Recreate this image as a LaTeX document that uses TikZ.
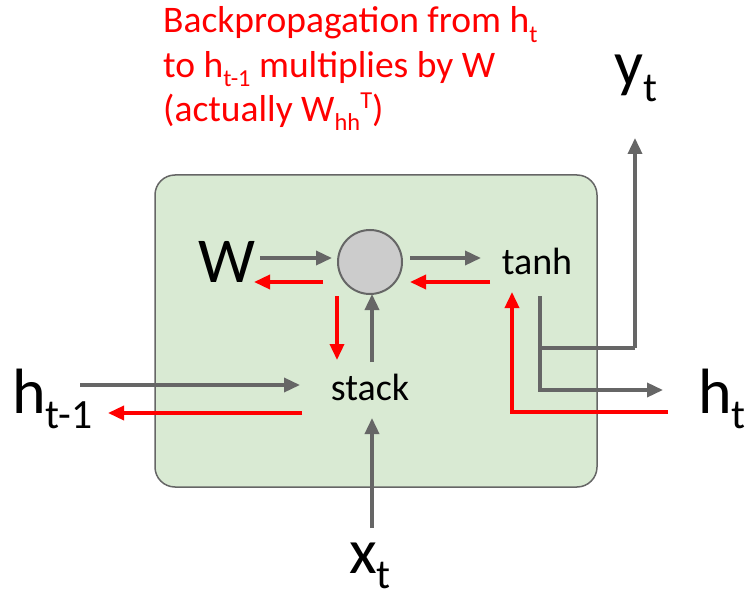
\documentclass[tikz,border=0pt]{standalone}
\usepackage{fontspec}
\setmainfont{Carlito}
\usetikzlibrary{arrows.meta}
\definecolor{boxgreen}{HTML}{D9EAD3}
\definecolor{arrgray}{HTML}{666666}
\definecolor{circgray}{HTML}{CCCCCC}
\newcommand\lo[1]{\raisebox{-0.24em}{\scalebox{0.65}{#1}}}
\newcommand\hi[1]{\raisebox{0.35em}{\scalebox{0.65}{#1}}}
\begin{document}
\begin{tikzpicture}[x=1pt,y=-1pt,
  fw/.style={draw=arrgray,line width=3.5pt,-{Triangle[length=16pt,width=14pt]}},
  bw/.style={draw=red,line width=3.5pt,-{Triangle[length=16pt,width=14pt]}},
  big/.style={font=\fontsize{64}{64}\selectfont, anchor=base west, inner sep=0pt},
  mid/.style={font=\fontsize{38}{40}\selectfont, anchor=base, inner sep=0pt},
]
\useasboundingbox (0,0) rectangle (750,599);
\node[draw=arrgray, line width=1.5pt, fill=boxgreen, rounded corners=20pt,
      minimum width=442pt, minimum height=312pt, inner sep=0pt] (cell) at (376,331) {};
\node[circle, draw=arrgray, line width=2pt, fill=circgray, minimum size=64pt, inner sep=0pt] (mul) at (370,262) {};
\node[mid] (tanh) at (537,274) {tanh};
\node[mid] (stack) at (370,400) {stack};
\node[big] (W) at (198,282) {W};
\node[big] (hprev) at (12,413) {h\lo{t-1}};
\node[big] (hnext) at (698,413) {h\lo{t}};
\node[big] (yt) at (614,86) {y\lo{t}};
\node[big] (xt) at (349,573) {x\lo{t}};
\node[anchor=base west, inner sep=0pt, text=red, align=left,
      font=\fontsize{37.5}{44.5}\selectfont] (note) at (163,122)
  {Backpropagation from h\lo{t}\\to h\lo{t-1} multiplies by W\\(actually W\lo{hh}\hi{T})};
% coordinates for connector ends
\coordinate (wa) at (260,258); \coordinate (wb) at (332,258);
\coordinate (wr1) at (323,282); \coordinate (wr2) at (254,282);
\coordinate (ta) at (410,258); \coordinate (tb) at (481,258);
\coordinate (tr1) at (490,282); \coordinate (tr2) at (410,282);
\coordinate (md1) at (337,296); \coordinate (md2) at (337,360);
\coordinate (su1) at (372,362); \coordinate (su2) at (372,294);
\coordinate (ha) at (80,385); \coordinate (hb) at (300,385);
\coordinate (hr1) at (302,413); \coordinate (hr2) at (108,413);
\coordinate (xa) at (372,528); \coordinate (xb) at (372,418);
\coordinate (o1) at (540,296); \coordinate (o2) at (540,390); \coordinate (o3) at (663,390);
\coordinate (b1) at (540,348); \coordinate (b2) at (635,348); \coordinate (b3) at (635,138);
\coordinate (r1) at (668,412); \coordinate (r2) at (512,412); \coordinate (r3) at (512,292);
\draw[fw] (wa) -- (wb);
\draw[bw] (wr1) -- (wr2);
\draw[fw] (ta) -- (tb);
\draw[bw] (tr1) -- (tr2);
\draw[bw] (md1) -- (md2);
\draw[fw] (su1) -- (su2);
\draw[fw] (ha) -- (hb);
\draw[bw] (hr1) -- (hr2);
\draw[fw] (xa) -- (xb);
\draw[fw] (o1) -- (o2) -- (o3);
\draw[fw,-] (b1) -- (b2);
\draw[fw] (b2) -- (b3);
\draw[bw] (r1) -- (r2) -- (r3);
\end{tikzpicture}
\end{document}
